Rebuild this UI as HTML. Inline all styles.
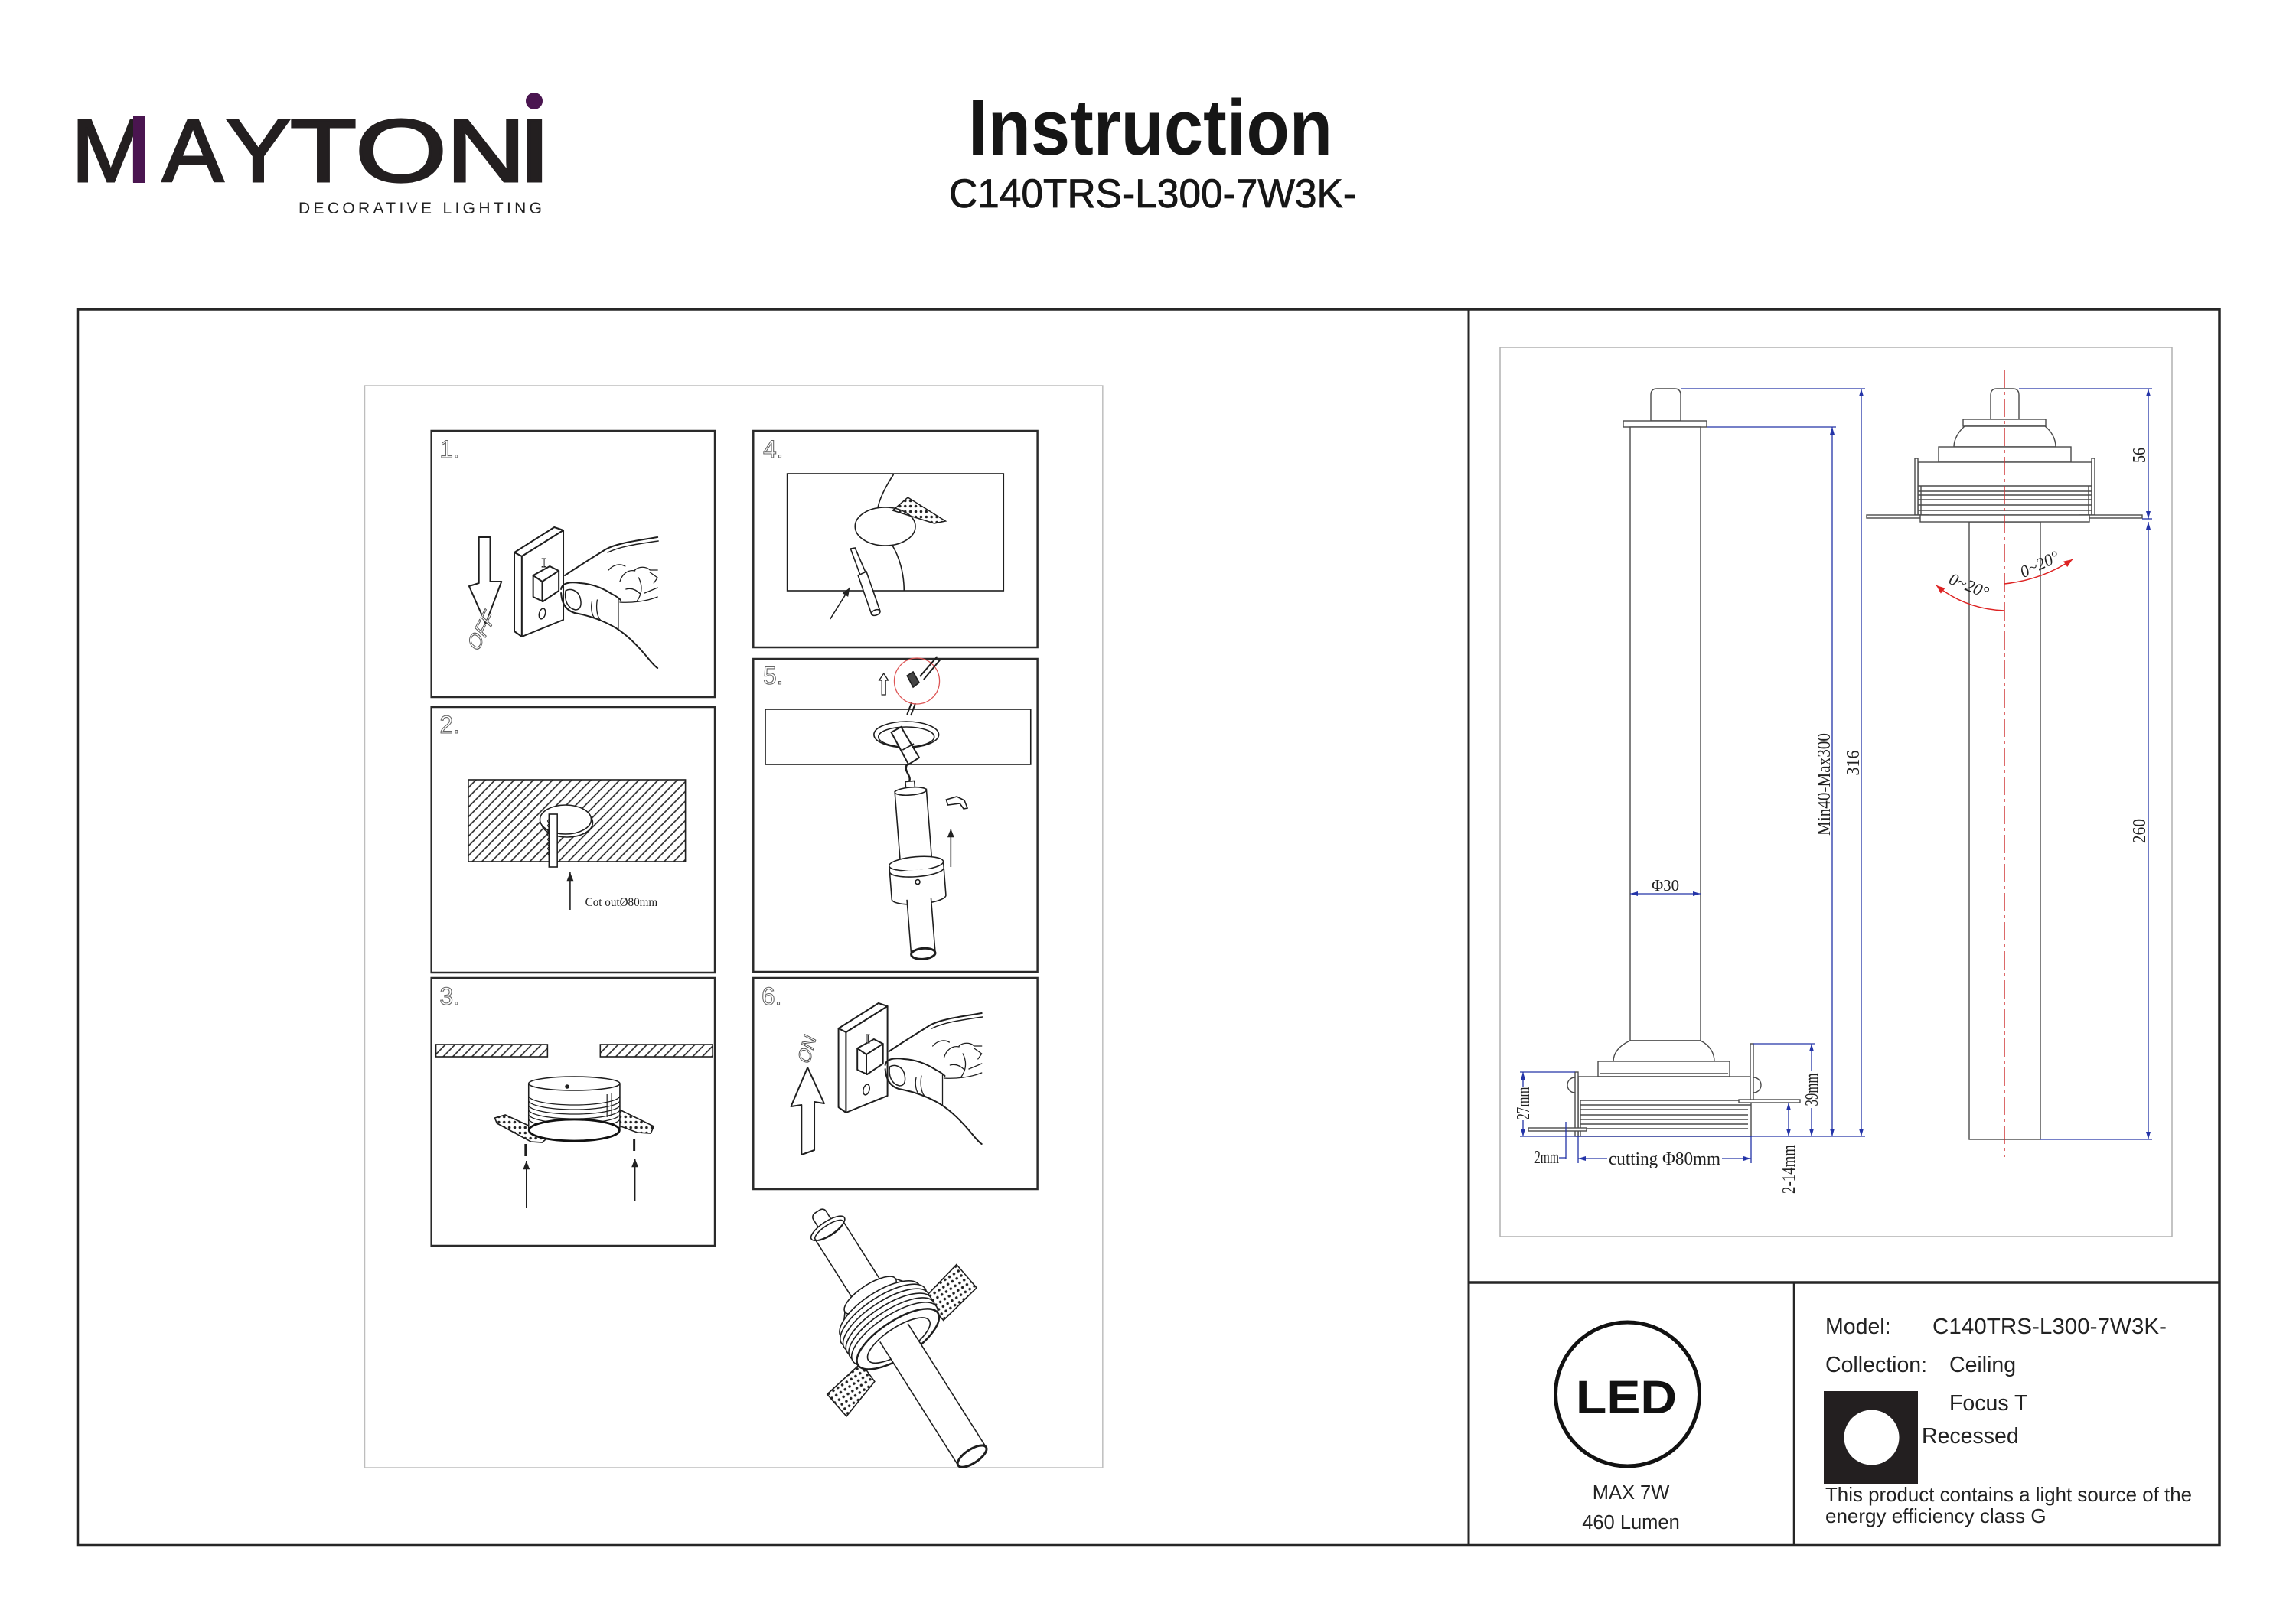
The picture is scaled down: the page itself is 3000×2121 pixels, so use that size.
<!DOCTYPE html>
<html><head><meta charset="utf-8"><style>
html,body{margin:0;padding:0;background:#fff;}
svg{display:block;}
</style></head><body>
<svg width="3000" height="2121" viewBox="0 0 3000 2121" xmlns="http://www.w3.org/2000/svg" font-family="'Liberation Sans', Arial, sans-serif">
<defs>
<pattern id="hatch" width="9" height="9" patternUnits="userSpaceOnUse" patternTransform="rotate(45)">
<line x1="1" y1="0" x2="1" y2="9" stroke="#222" stroke-width="1.6"/>
</pattern>
<pattern id="dots" width="7" height="7" patternUnits="userSpaceOnUse">
<circle cx="3.5" cy="3.5" r="1.8" fill="#222"/>
</pattern>
<marker id="mk" viewBox="0 0 10 8" refX="10" refY="4" markerWidth="12" markerHeight="9" markerUnits="userSpaceOnUse" orient="auto-start-reverse"><path d="M0,0 L10,4 L0,8 z" fill="#222"/></marker>
<marker id="db" viewBox="0 0 10 6" refX="10" refY="3" markerWidth="11" markerHeight="6" markerUnits="userSpaceOnUse" orient="auto-start-reverse"><path d="M0,0 L10,3 L0,6 z" fill="#2434a8"/></marker>
<marker id="mr" viewBox="0 0 10 8" refX="10" refY="4" markerWidth="13" markerHeight="9" markerUnits="userSpaceOnUse" orient="auto-start-reverse"><path d="M0,0 L10,4 L0,8 z" fill="#d22"/></marker>
</defs>

<!-- HEADER LOGO -->
<g fill="#231f20" stroke="#231f20" stroke-width="3">
<text x="93" y="237" font-size="116" textLength="103" lengthAdjust="spacingAndGlyphs">M</text>
<text x="212" y="237" font-size="116" textLength="80" lengthAdjust="spacingAndGlyphs">A</text>
<text x="295" y="237" font-size="116" textLength="85" lengthAdjust="spacingAndGlyphs">Y</text>
<text x="379" y="237" font-size="116" textLength="87" lengthAdjust="spacingAndGlyphs">T</text>
<text x="464" y="237" font-size="116" textLength="120" lengthAdjust="spacingAndGlyphs">O</text>
<text x="583" y="237" font-size="116" textLength="104" lengthAdjust="spacingAndGlyphs">N</text>
<text x="676" y="237" font-size="116" textLength="45" lengthAdjust="spacingAndGlyphs">I</text>
</g>
<rect x="174" y="152" width="16" height="87" fill="#4a1550"/>
<circle cx="698" cy="132" r="11" fill="#4a1550"/>
<text x="390" y="279" font-size="21" fill="#222" textLength="318" lengthAdjust="spacing">DECORATIVE LIGHTING</text>

<!-- TITLE -->
<text x="1265" y="202" font-size="103" font-weight="bold" fill="#161616" textLength="476" lengthAdjust="spacingAndGlyphs">Instruction</text>
<text x="1240" y="271" font-size="53" fill="#161616" stroke="#161616" stroke-width="0.8" textLength="532" lengthAdjust="spacingAndGlyphs">C140TRS-L300-7W3K-</text>

<!-- MAIN FRAME -->
<rect x="101.5" y="404" width="2798.5" height="1615.5" fill="none" stroke="#262626" stroke-width="3.5"/>
<line x1="1919" y1="404" x2="1919" y2="2019.5" stroke="#262626" stroke-width="3"/>
<line x1="1919" y1="1676" x2="2900" y2="1676" stroke="#262626" stroke-width="3.5"/>
<line x1="2344" y1="1676" x2="2344" y2="2019.5" stroke="#262626" stroke-width="2.5"/>

<!-- LEFT PANEL -->
<g transform="matrix(0.985 0 0 1 7.15 0)">
<rect x="476.5" y="504" width="979" height="1414" fill="none" stroke="#bdbdbd" stroke-width="1.5"/>
<g fill="none" stroke="#2a2a2a" stroke-width="2.5">
<rect x="565" y="563" width="376" height="348"/>
<rect x="992" y="563" width="377" height="283"/>
<rect x="992" y="861" width="377" height="409"/>
<rect x="565" y="924" width="376" height="347"/>
<rect x="565" y="1278" width="376" height="350"/>
<rect x="992" y="1278" width="377" height="276"/>
</g>
<g font-size="32" fill="#fff" stroke="#666" stroke-width="1.1">
<text x="576" y="598">1.</text>
<text x="1005" y="598">4.</text>
<text x="1005" y="894">5.</text>
<text x="576" y="958">2.</text>
<text x="576" y="1313">3.</text>
<text x="1003" y="1313">6.</text>
</g>

<!-- STEP 1 -->
<g fill="#fff" stroke="#1e1e1e" stroke-width="2" stroke-linejoin="round" stroke-linecap="round">
<polygon points="628,702 643,702 643,760 658,760 637,815 615,766 628,762"/>
<polygon points="675,722 728,689 740,693 685,727"/>
<polygon points="675,722 685,727 685,832 675,825"/>
<polygon points="685,727 740,693 740,810 685,832"/>
<polygon points="700,752 722,740 734,746 734,772 713,786 700,780"/>
<path d="M700,752 L712,760 L712,786 M712,760 L734,746" fill="none"/>
<ellipse cx="712" cy="802" rx="4" ry="7" transform="rotate(15 712 802)" fill="none" stroke-width="1.5"/>
<path d="M865,702 C 835,707 810,710 796,718 C 780,728 760,740 742,752" fill="none"/>
<path d="M866,707 C 838,711 815,714 799,722" fill="none" stroke-width="1.5"/>
<path d="M737,770 C 738,762 748,760 762,762 C 778,763 793,769 804,776 C 810,779 814,782 816,784" fill="none"/>
<path d="M743,772 C 741,785 746,795 756,797 C 763,797 765,790 762,780 C 759,772 750,768 743,772 Z" fill="none" stroke-width="1.5"/>
<path d="M737,775 C 738,790 745,800 760,802 C 775,805 790,810 805,818 C 820,826 835,840 848,855 C 855,863 860,870 865,873" fill="none"/>
<path d="M778,786 C 776,795 778,805 782,808 M785,784 C 783,795 785,806 789,810 M813,782 L813,822" fill="none" stroke-width="1.3"/>
<path d="M800,745 C 806,738 815,736 822,740 M815,760 C 818,750 826,744 835,746 M835,745 C 840,740 850,740 855,745 L865,745 M840,755 C 845,765 845,775 838,785 M815,787 C 830,788 850,786 865,780 M848,775 L865,768 M855,748 L865,755 L860,762 M823,770 C 830,768 836,770 842,776" fill="none" stroke-width="1.3"/>
</g>
<text x="711" y="741" font-family="'Liberation Serif', serif" font-size="17" fill="#fff" stroke="#222" stroke-width="1">I</text>
<text transform="translate(626,853) rotate(-62) skewX(-15)" font-size="26" fill="#fff" stroke="#555" stroke-width="1">OFF</text>

<!-- STEP 4 -->
<g fill="none" stroke="#1e1e1e" stroke-width="1.6">
<rect x="1037" y="619" width="287" height="153"/>
<ellipse cx="1167" cy="688" rx="40" ry="25" fill="#fff"/>
<path d="M1178,620 C 1168,635 1160,650 1157,664"/>
<path d="M1176,712 C 1186,728 1192,750 1192,772"/>
<polygon points="1177,667 1197,650 1247,681 1232,684" fill="url(#dots)" stroke-width="1.5"/>
<polygon points="1121,717 1127,716 1141,748 1134,752" fill="#fff"/>
<polygon points="1131,752 1142,747 1160,798 1149,803" fill="#fff"/>
<ellipse cx="1154.5" cy="800.5" rx="6" ry="3.5" transform="rotate(-20 1154.5 800.5)" fill="#fff"/>
<line x1="1094" y1="809" x2="1120" y2="768" marker-end="url(#mk)"/>
</g>

<!-- STEP 5 -->
<g fill="none" stroke="#1e1e1e" stroke-width="1.6">
<rect x="1008" y="927" width="352" height="72"/>
<ellipse cx="1195" cy="960" rx="43" ry="17" fill="#fff"/>
<ellipse cx="1195" cy="963" rx="37" ry="13"/>
<path d="M1202,918 L1196,934 M1207,919 L1201,935" stroke-width="2"/>
<polygon points="1175,957 1188,950 1212,990 1198,999" fill="#fff" stroke-width="2"/>
<path d="M1190,980 L1205,972" />
<path d="M1196,999 C 1190,1008 1204,1014 1198,1023" stroke-width="2.5"/>
<circle cx="1209" cy="890" r="30" stroke="#d55" stroke-width="1.3"/>
<path d="M1213,884 L1236,858 M1218,888 L1240,862" stroke-width="2"/>
<polygon points="1196,883 1204,878 1212,892 1204,898" fill="#444"/>
<polygon points="1165,880 1171,889 1167.5,889 1167.5,908 1162.5,908 1162.5,889 1159,889" fill="#fff" stroke-width="1.3"/>
<g transform="translate(1200,1025) rotate(-4.5)" fill="#fff">
<rect x="-6" y="-4" width="12" height="12"/>
<rect x="-21" y="8" width="42" height="96"/>
<ellipse cx="0" cy="9" rx="21" ry="5"/>
<path d="M-36,104 L-36,148 A36 9 0 0 0 36,148 L36,104 Z"/>
<ellipse cx="0" cy="104" rx="36" ry="9"/>
<path d="M-36,112 A36 9 0 0 0 36,112"/>
<circle cx="0" cy="128" r="3"/>
<rect x="-16" y="150" width="32" height="72" stroke="none"/>
<path d="M-16,150 L-16,222 M16,150 L16,222"/>
<ellipse cx="0" cy="222" rx="16" ry="7" stroke-width="3"/>
</g>
<path d="M1248,1045 L1262,1041 L1272,1046 L1276,1056 L1271,1057 L1266,1050 L1250,1052 Z" fill="#fff"/>
<line x1="1254" y1="1133" x2="1254" y2="1083" marker-end="url(#mk)"/>
</g>

<!-- STEP 2 -->
<g stroke="#1e1e1e" stroke-width="1.6">
<rect x="614" y="1019" width="288" height="107" fill="url(#hatch)"/>
<ellipse cx="745" cy="1075" rx="34" ry="19" fill="#fff"/>
<ellipse cx="743" cy="1071" rx="34" ry="19" fill="#fff"/>
<rect x="721" y="1064" width="11" height="69" fill="#fff"/>
<path d="M721,1070 l-2,3 l2,3 l-2,3 l2,3 l-2,3 l2,3 l-2,3 l2,3 l-2,3 l2,3 l-2,3 l2,3 l-2,3 l2,3 l-2,3 l2,3" fill="none" stroke-width="1"/>
<line x1="749" y1="1189" x2="749" y2="1140" marker-end="url(#mk)" fill="none"/>
</g>
<text x="769" y="1184" font-family="'Liberation Serif', serif" font-size="16" fill="#222" textLength="96" lengthAdjust="spacingAndGlyphs">Cot outØ80mm</text>

<!-- STEP 3 -->
<g stroke="#1e1e1e" stroke-width="1.6">
<rect x="571" y="1365" width="148" height="16" fill="url(#hatch)"/>
<rect x="789" y="1365" width="149" height="16" fill="url(#hatch)"/>
<polygon points="649,1461 663,1457 705,1476 720,1486 712,1493 697,1492 652,1468" fill="url(#dots)"/>
<polygon points="790,1452 806,1446 860,1472 856,1481 838,1480 800,1466" fill="url(#dots)"/>
<path d="M694,1416 A60.5 9 0 0 1 815,1416 L815,1474 A60.5 14 0 0 1 694,1474 Z" fill="#fff"/>
<path d="M694,1416 A60.5 9 0 0 0 815,1416" fill="none"/>
<path d="M694,1432 A60.5 12 0 0 0 815,1432 M694,1438 A60.5 12 0 0 0 815,1438 M694,1444 A60.5 12 0 0 0 815,1444 M694,1450 A60.5 12 0 0 0 815,1450 M694,1456 A60.5 12 0 0 0 815,1456 M694,1462 A60.5 12 0 0 0 815,1462" fill="none" stroke-width="1.2"/>
<path d="M798,1430 L798,1460 M804,1428 L804,1458" fill="none" stroke-width="1.2"/>
<circle cx="745" cy="1420" r="2" fill="#222"/>
<ellipse cx="754.5" cy="1477" rx="60" ry="14" fill="#fff" stroke="#111" stroke-width="2.8"/>
<line x1="690" y1="1495" x2="690" y2="1511" stroke-width="3"/>
<line x1="834" y1="1489" x2="834" y2="1504" stroke-width="3"/>
<line x1="691" y1="1579" x2="691" y2="1517" marker-end="url(#mk)"/>
<line x1="835" y1="1569" x2="835" y2="1514" marker-end="url(#mk)"/>
</g>

<!-- STEP 6 -->
<g fill="#fff" stroke="#1e1e1e" stroke-width="2" stroke-linejoin="round" stroke-linecap="round" transform="translate(430,622)">
<polygon points="675,722 728,689 740,693 685,727"/>
<polygon points="675,722 685,727 685,832 675,825"/>
<polygon points="685,727 740,693 740,810 685,832"/>
<polygon points="700,748 722,736 734,742 734,768 713,782 700,776"/>
<path d="M700,748 L712,756 L712,782 M712,756 L734,742" fill="none"/>
<ellipse cx="712" cy="802" rx="4" ry="7" transform="rotate(15 712 802)" fill="none" stroke-width="1.5"/>
<path d="M865,702 C 835,707 810,710 796,718 C 780,728 760,740 742,752" fill="none"/>
<path d="M866,707 C 838,711 815,714 799,722" fill="none" stroke-width="1.5"/>
<path d="M737,770 C 738,762 748,760 762,762 C 778,763 793,769 804,776 C 810,779 814,782 816,784" fill="none"/>
<path d="M743,772 C 741,785 746,795 756,797 C 763,797 765,790 762,780 C 759,772 750,768 743,772 Z" fill="none" stroke-width="1.5"/>
<path d="M737,775 C 738,790 745,800 760,802 C 775,805 790,810 805,818 C 820,826 835,840 848,855 C 855,863 860,870 865,873" fill="none"/>
<path d="M778,786 C 776,795 778,805 782,808 M785,784 C 783,795 785,806 789,810 M813,782 L813,822" fill="none" stroke-width="1.3"/>
<path d="M800,745 C 806,738 815,736 822,740 M815,760 C 818,750 826,744 835,746 M835,745 C 840,740 850,740 855,745 L865,745 M840,755 C 845,765 845,775 838,785 M815,787 C 830,788 850,786 865,780 M848,775 L865,768 M855,748 L865,755 L860,762 M823,770 C 830,768 836,770 842,776" fill="none" stroke-width="1.3"/>
</g>
<text x="1141" y="1363" font-family="'Liberation Serif', serif" font-size="17" fill="#fff" stroke="#222" stroke-width="1">I</text>
<polygon points="1064,1395 1086,1442 1073,1440 1073,1503 1056,1509 1056,1444 1042,1446" fill="#fff" stroke="#1e1e1e" stroke-width="2" stroke-linejoin="round"/>
<text transform="translate(1066,1392) rotate(-75) skewX(-12)" font-size="24" fill="#fff" stroke="#555" stroke-width="1">ON</text>

<!-- PERSPECTIVE LAMP -->
<g transform="translate(1078,1585) rotate(-32.7)" fill="#fff" stroke="#1e1e1e" stroke-width="1.6">
<rect x="-22" y="20" width="44" height="140"/>
<rect x="-10" y="-2" width="20" height="24" rx="6"/>
<ellipse cx="0" cy="24" rx="26" ry="9"/>
<ellipse cx="0" cy="27" rx="22" ry="7" fill="none"/>
<polygon points="58,170 118,156 124,196 64,208" fill="url(#dots)"/>
<polygon points="-58,196 -118,206 -112,244 -56,226" fill="url(#dots)"/>
<path d="M-40,128 C -45,135 -52,142 -58,150 L58,150 C 52,142 45,135 40,128 Z"/>
<ellipse cx="0" cy="128" rx="40" ry="14"/>
<ellipse cx="0" cy="152" rx="62" ry="24"/>
<ellipse cx="0" cy="160" rx="66" ry="25"/>
<ellipse cx="0" cy="167" rx="66" ry="25"/>
<ellipse cx="0" cy="174" rx="66" ry="25"/>
<ellipse cx="0" cy="181" rx="66" ry="25"/>
<ellipse cx="0" cy="188" rx="66" ry="25"/>
<ellipse cx="0" cy="196" rx="63" ry="24" stroke-width="2.5"/>
<ellipse cx="0" cy="198" rx="48" ry="17"/>
<rect x="-22" y="196" width="44" height="182" stroke="none"/>
<path d="M-22,186 L-22,378 M22,186 L22,378" fill="none"/>
<ellipse cx="0" cy="378" rx="22" ry="9" stroke-width="3"/>
</g>
</g>

<!-- RIGHT TECH DRAWING -->
<rect x="1960" y="454" width="878" height="1162" fill="none" stroke="#b0b0b0" stroke-width="1.5"/>

<!-- left lamp -->
<g fill="#fff" stroke="#4a4a4a" stroke-width="1.4">
<path d="M2157,550 L2157,516 Q2157,508 2165,508 L2188,508 Q2196,508 2196,516 L2196,550 Z"/>
<rect x="2121" y="550" width="109" height="8"/>
<rect x="2130" y="558" width="92" height="802"/>
<path d="M2130,1360 C2116,1366 2108,1376 2108,1387 L2240,1387 C2240,1376 2234,1366 2222,1360 Z"/>
<rect x="2088" y="1387" width="172" height="20"/>
<line x1="2090" y1="1403" x2="2258" y2="1403"/>
<rect x="2062" y="1407" width="226" height="78"/>
<path d="M2065,1438 L2288,1438 M2065,1444 L2288,1444 M2065,1450 L2284,1450 M2065,1457 L2284,1457 M2065,1463 L2284,1463 M2065,1469 L2284,1469 M2065,1475 L2284,1475 M2065,1438 L2065,1485" fill="none"/>
<rect x="2058" y="1401" width="4" height="84"/>
<path d="M2058,1408 A10 10 0 0 0 2058,1428" fill="none"/>
<rect x="2287" y="1364" width="4" height="76"/>
<path d="M2291,1408 A10 10 0 0 1 2291,1428" fill="none"/>
<rect x="2272" y="1437" width="80" height="4"/>
<rect x="1997" y="1474" width="76" height="4"/>
</g>
<!-- left dims -->
<g stroke="#2434a8" stroke-width="1.3" fill="none">
<line x1="2196" y1="508" x2="2437" y2="508"/>
<line x1="2230" y1="558" x2="2399" y2="558"/>
<line x1="1986" y1="1485" x2="2437" y2="1485"/>
<line x1="2432" y1="508" x2="2432" y2="1485" marker-start="url(#db)" marker-end="url(#db)"/>
<line x1="2394" y1="558" x2="2394" y2="1485" marker-start="url(#db)" marker-end="url(#db)"/>
<line x1="2130" y1="1168" x2="2222" y2="1168" marker-start="url(#db)" marker-end="url(#db)"/>
<line x1="2291" y1="1364" x2="2372" y2="1364"/>
<line x1="2367" y1="1364" x2="2367" y2="1400" marker-start="url(#db)"/>
<line x1="2367" y1="1448" x2="2367" y2="1485" marker-end="url(#db)"/>
<line x1="2337" y1="1441" x2="2337" y2="1485" marker-start="url(#db)" marker-end="url(#db)"/>
<line x1="1986" y1="1401" x2="2058" y2="1401"/>
<line x1="1990" y1="1401" x2="1990" y2="1420" marker-start="url(#db)"/>
<line x1="1990" y1="1464" x2="1990" y2="1485" marker-end="url(#db)"/>
<line x1="2046" y1="1466" x2="2046" y2="1514"/>
<line x1="2037" y1="1513" x2="2046" y2="1513"/>
<line x1="2062" y1="1485" x2="2062" y2="1520"/>
<line x1="2288" y1="1485" x2="2288" y2="1520"/>
<line x1="2062" y1="1514" x2="2100" y2="1514" marker-start="url(#db)"/>
<line x1="2250" y1="1514" x2="2288" y2="1514" marker-end="url(#db)"/>
</g>
<g font-family="'Liberation Serif', serif" font-size="24" fill="#222">
<text transform="translate(2429,997) rotate(-90)" text-anchor="middle" textLength="33" lengthAdjust="spacingAndGlyphs">316</text>
<text transform="translate(2391,1025) rotate(-90)" text-anchor="middle" textLength="134" lengthAdjust="spacingAndGlyphs">Min40-Max300</text>
<text x="2158" y="1164" font-size="21" textLength="36" lengthAdjust="spacingAndGlyphs">Φ30</text>
<text transform="translate(2375,1424) rotate(-90)" text-anchor="middle" textLength="43" lengthAdjust="spacingAndGlyphs">39mm</text>
<text transform="translate(2345,1528) rotate(-90)" text-anchor="middle" textLength="64" lengthAdjust="spacingAndGlyphs">2-14mm</text>
<text transform="translate(1998,1442) rotate(-90)" text-anchor="middle" textLength="43" lengthAdjust="spacingAndGlyphs">27mm</text>
<text x="2005" y="1520" textLength="32" lengthAdjust="spacingAndGlyphs">2mm</text>
<text x="2102" y="1522" textLength="146" lengthAdjust="spacingAndGlyphs">cutting Φ80mm</text>
</g>

<!-- right lamp -->
<g fill="#fff" stroke="#4a4a4a" stroke-width="1.4">
<rect x="2573" y="682" width="93" height="807"/>
<path d="M2601,548 L2601,516 Q2601,508 2609,508 L2630,508 Q2638,508 2638,516 L2638,548 Z"/>
<rect x="2565" y="548" width="108" height="9"/>
<path d="M2567,557 C2559,564 2553,574 2553,584 L2686,584 C2686,574 2681,564 2672,557 Z"/>
<rect x="2533" y="584" width="173" height="20"/>
<rect x="2506" y="604" width="227" height="69"/>
<path d="M2506,635 L2733,635 M2506,642 L2733,642 M2506,647 L2733,647 M2506,653 L2733,653 M2506,660 L2733,660 M2506,667 L2733,667 M2510,635 L2510,673 M2729,635 L2729,673" fill="none"/>
<rect x="2502" y="599" width="4" height="74"/>
<rect x="2733" y="599" width="4" height="74"/>
<rect x="2439" y="673" width="81" height="4"/>
<rect x="2718" y="673" width="81" height="4"/>
<rect x="2509" y="673" width="221" height="9"/>
</g>
<line x1="2619" y1="483" x2="2619" y2="1512" stroke="#cc2b2b" stroke-width="1.4" stroke-dasharray="24 5 4 5"/>
<g stroke="#2434a8" stroke-width="1.3" fill="none">
<line x1="2638" y1="508" x2="2812" y2="508"/>
<line x1="2799" y1="678" x2="2812" y2="678"/>
<line x1="2666" y1="1489" x2="2812" y2="1489"/>
<line x1="2807" y1="508" x2="2807" y2="678" marker-start="url(#db)" marker-end="url(#db)"/>
<line x1="2807" y1="682" x2="2807" y2="1489" marker-start="url(#db)" marker-end="url(#db)"/>
</g>
<g font-family="'Liberation Serif', serif" font-size="24" fill="#222">
<text transform="translate(2803,595) rotate(-90)" text-anchor="middle" textLength="20" lengthAdjust="spacingAndGlyphs">56</text>
<text transform="translate(2803,1086) rotate(-90)" text-anchor="middle" textLength="32" lengthAdjust="spacingAndGlyphs">260</text>
<text transform="translate(2668,744) rotate(-25)" text-anchor="middle" font-size="22" font-style="italic">0~20°</text>
<text transform="translate(2570,772) rotate(22)" text-anchor="middle" font-size="22" font-style="italic">0~20°</text>
</g>
<g stroke="#d22" stroke-width="1.4" fill="none">
<path d="M2619,763 Q2668,758 2708,731" marker-end="url(#mr)"/>
<path d="M2619,798 Q2568,796 2530,765" marker-end="url(#mr)"/>
</g>

<!-- BOTTOM INFO -->
<circle cx="2126.5" cy="1822" r="94" fill="none" stroke="#111" stroke-width="5"/>
<text x="2059" y="1847" font-size="61" font-weight="bold" fill="#111" textLength="132" lengthAdjust="spacingAndGlyphs">LED</text>
<text x="2131" y="1959" font-size="25.5" fill="#222" text-anchor="middle">MAX 7W</text>
<text x="2131" y="1998" font-size="25.5" fill="#222" text-anchor="middle">460 Lumen</text>

<g font-size="28.5" fill="#222">
<text x="2385" y="1743">Model:</text>
<text x="2525" y="1743" textLength="306" lengthAdjust="spacingAndGlyphs">C140TRS-L300-7W3K-</text>
<text x="2385" y="1793">Collection:</text>
<text x="2547" y="1793">Ceiling</text>
<text x="2547" y="1843">Focus T</text>
<text x="2511" y="1886">Recessed</text>
</g>
<rect x="2383" y="1818" width="123" height="121" fill="#231f20"/>
<circle cx="2445.5" cy="1878.5" r="36" fill="#fff"/>
<text x="2385" y="1962" font-size="26" fill="#222" textLength="479" lengthAdjust="spacingAndGlyphs">This product contains a light source of the</text>
<text x="2385" y="1990" font-size="26" fill="#222">energy efficiency class G</text>
</svg>
</body></html>
